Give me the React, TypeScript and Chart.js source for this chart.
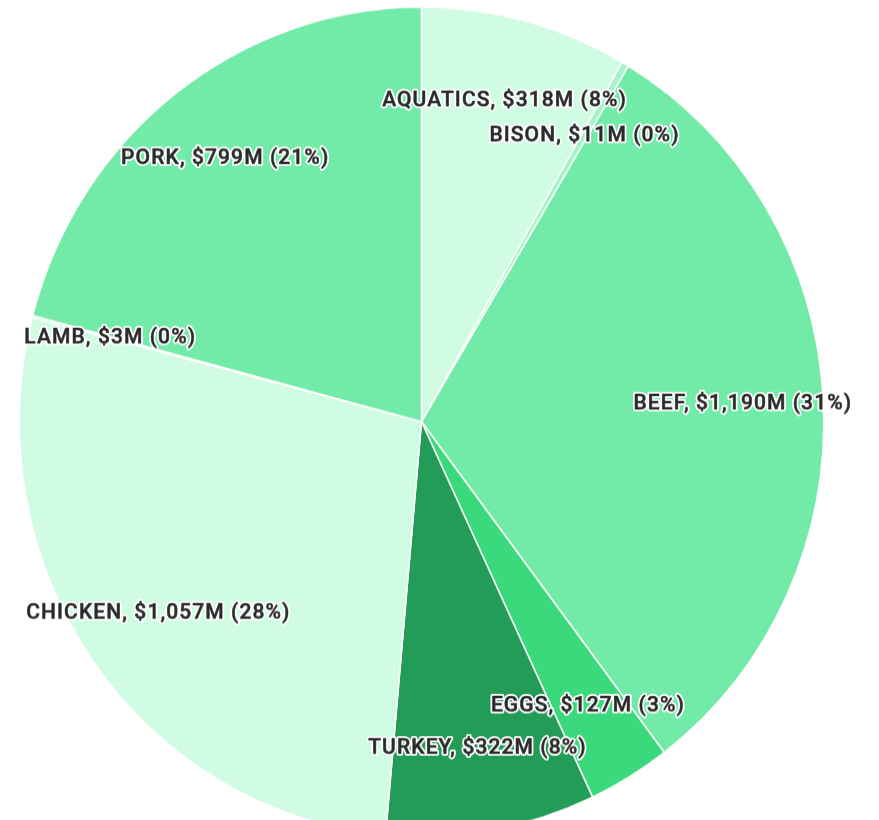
import React, { useEffect, useRef } from "react";
import { Chart, registerables } from "chart.js";

Chart.register(...registerables);

const categories = ["AQUATICS", "BISON", "BEEF", "EGGS", "TURKEY", "CHICKEN", "LAMB", "PORK"];
const values = [318, 11, 1190, 127, 322, 1057, 3, 799];
const colors = ["#d0fce4", "#a3f5c6", "#72eaa8", "#3ad97c", "#239c57", "#d0fce4", "#a3f5c6", "#72eaa8"];

const labelPlugin = {
  id: "sliceLabels",
  afterDatasetsDraw(chart: any) {
    const ctx = chart.ctx;
    const meta = chart.getDatasetMeta(0);
    const data = chart.data.datasets[0].data as number[];
    const total = data.reduce((a, b) => a + b, 0);
    ctx.save();
    ctx.font = "500 21px Roboto";
    ctx.textAlign = "center";
    ctx.textBaseline = "middle";
    ctx.lineJoin = "round";
    try { (ctx as any).letterSpacing = "1.1px"; } catch (e) {}
    meta.data.forEach((arc: any, i: number) => {
      const { x, y, startAngle, endAngle, outerRadius } = arc.getProps(
        ["x", "y", "startAngle", "endAngle", "outerRadius"],
        true
      );
      const mid = (startAngle + endAngle) / 2;
      const r = outerRadius * 0.8;
      const tx = x + Math.cos(mid) * r;
      const ty = y + Math.sin(mid) * r;
      const v = data[i];
      const pct = Math.round((v / total) * 100);
      const text = `${chart.data.labels[i]}, $${v.toLocaleString("en-US")}M (${pct}%)`;
      ctx.strokeStyle = "#ffffff";
      ctx.lineWidth = 4;
      ctx.strokeText(text, tx, ty);
      ctx.strokeStyle = "#555555";
      ctx.lineWidth = 0.6;
      ctx.strokeText(text, tx, ty);
      ctx.fillStyle = "#2a2a2a";
      ctx.fillText(text, tx, ty);
    });
    ctx.restore();
  },
};

export default function App() {
  const ref = useRef<HTMLCanvasElement>(null);
  useEffect(() => {
    if (!ref.current) return;
    const chart = new Chart(ref.current, {
      type: "pie",
      data: {
        labels: categories,
        datasets: [
          {
            data: values,
            backgroundColor: colors,
            borderColor: "#ffffff",
            borderWidth: 1.5,
          },
        ],
      },
      options: {
        responsive: false,
        animation: false,
        layout: { padding: { left: 18, right: 54, top: 6, bottom: 8 } },
        plugins: {
          legend: { display: false },
          tooltip: { enabled: false },
        },
      },
      plugins: [labelPlugin],
    });
    return () => chart.destroy();
  }, []);
  return (
    <div style={{ position: "fixed", left: 0, top: 0, width: 879, height: 820, overflow: "hidden", background: "#fff" }}>
      <canvas
        ref={ref}
        width={879}
        height={820}
        style={{ display: "block", width: 879, height: 820, transform: "scaleY(1.031)", transformOrigin: "0 0" }}
      />
    </div>
  );
}
